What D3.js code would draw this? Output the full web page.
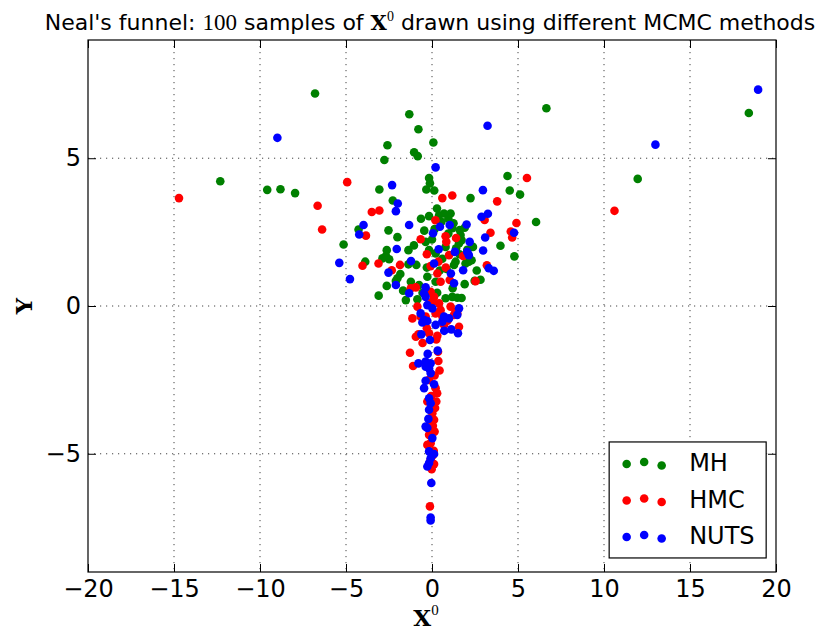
<!DOCTYPE html>
<html>
<head>
<meta charset="utf-8">
<script src="https://cdn.jsdelivr.net/npm/d3@7"></script>
<style>
  html, body { margin: 0; padding: 0; background: #fff; }
  svg { display: block; }
  text { font-family: "DejaVu Sans", sans-serif; fill: #000; }
</style>
</head>
<body>
<svg id="chart" width="823" height="630"></svg>
<script>
// Samples of (x0, y) drawn by each sampler
const mhPoints = [
  [-6.80,7.19],[-12.31,4.22],[-9.58,3.93],[-8.81,3.95],[-7.96,3.82],[6.65,6.69],[18.42,6.53],[11.96,4.30],
  [6.05,2.84],[5.12,3.77],[4.39,4.40],[4.52,3.91],[4.79,1.68],[3.98,2.04],[2.82,0.89],[-1.32,6.49],
  [-0.79,5.98],[-2.59,5.44],[0.08,5.53],[-1.04,5.20],[-0.83,5.07],[-2.77,4.94],[-0.17,4.33],[-0.12,4.15],
  [-0.33,3.94],[0.13,3.91],[-3.06,3.94],[2.24,3.65],[-2.28,3.57],[0.29,3.30],[0.70,3.13],[1.08,3.13],
  [-0.17,3.04],[-0.64,2.95],[0.41,3.07],[-5.14,2.08],[-4.27,2.59],[-2.53,2.56],[-2.01,2.33],[1.18,2.63],
  [1.61,2.57],[1.66,2.40],[1.72,2.23],[-0.37,2.17],[-3.88,1.50],[-1.37,1.89],[-2.63,1.89],[-2.68,1.69],
  [-2.88,1.61],[-2.49,1.58],[-1.37,1.41],[-0.91,1.39],[-1.84,1.08],[-2.01,0.94],[-2.10,0.85],[-2.63,0.68],
  [-1.68,0.52],[-1.52,0.20],[1.90,0.74],[2.48,0.85],[-0.27,0.99],[0.21,0.82],[0.79,0.26],[1.18,0.31],
  [1.47,0.28],[1.72,0.27],[-0.85,0.23],[-1.23,0.82],[-0.75,0.71],[-0.17,1.89],[0.21,1.78],[0.79,2.00],
  [1.57,2.12],[2.38,2.00],[2.14,1.50],[2.30,1.55],[1.37,1.50],[1.28,1.39],[1.95,1.44],[-3.10,0.35],
  [0.55,2.85],[0.95,2.95],[1.25,2.80],[0.15,2.60],[-0.45,2.55],[0.95,2.45],[1.40,1.95],[0.60,1.60],
  [0.85,1.25],[1.60,1.75],[-0.30,1.30],[0.45,1.20],[1.20,0.60],[1.90,2.65],[2.05,1.90],[-1.05,2.05],
  [0.30,0.45],[-0.55,0.45],[2.60,1.20],[0.00,2.25]
];

const hmcPoints = [
  [-14.71,3.65],[-6.65,3.39],[-6.39,2.59],[10.61,3.22],[5.52,4.33],[3.79,3.54],[3.06,2.91],[4.91,2.81],
  [3.40,2.48],[4.58,2.52],[4.66,2.32],[3.19,1.38],[-4.93,4.19],[0.60,3.65],[1.18,3.74],[-3.50,3.18],
  [-3.06,3.23],[-3.84,2.38],[0.79,2.36],[0.83,2.17],[-0.66,2.26],[-4.04,1.36],[-3.11,1.44],[-1.86,1.39],
  [-2.34,1.21],[-1.23,0.60],[-0.94,0.63],[1.81,1.69],[0.99,1.72],[0.37,1.50],[-0.08,1.35],[0.31,1.10],
  [0.50,0.82],[1.03,0.88],[2.53,0.84],[-0.08,0.48],[0.12,0.31],[0.02,0.15],[-0.85,-0.02],[-0.66,-0.36],
  [-1.14,-0.42],[-0.37,-0.36],[0.41,0.09],[0.50,-0.14],[1.08,-0.02],[1.37,-0.19],[1.28,-0.30],[0.70,-0.64],
  [1.57,-0.70],[-0.94,-1.04],[-0.79,-0.96],[-0.17,-0.92],[0.31,-1.01],[0.25,-1.13],[-1.28,-1.58],[-1.10,-2.03],
  [0.37,-1.86],[0.44,-2.18],[0.21,-2.78],[-0.17,-2.50],[-0.27,-3.23],[0.25,-3.23],[0.02,-3.63],[0.12,-3.85],
  [-0.17,-4.36],[-0.08,-4.64],[-0.27,-4.70],[-0.08,-5.20],[-0.02,-5.52],[-0.12,-6.78],[0.21,-0.25],[1.47,-0.25],
  [0.15,-2.35],[0.30,-2.95],[-0.05,-3.05],[0.18,-3.45],[0.05,-4.05],[0.15,-4.25],[0.10,-4.90],[0.05,-5.05],
  [0.12,-5.35],[-0.10,-3.95],[0.35,-1.55],[-0.55,-1.25],[0.60,-0.35],[-0.30,-0.75],[0.90,-0.50],[-0.20,0.05],
  [0.80,1.30],[1.40,2.30],[-0.30,1.75],[0.20,2.90]
];

const nutsPoints = [
  [-8.99,5.69],[18.96,7.32],[3.23,6.10],[12.99,5.46],[2.96,3.92],[3.25,3.12],[2.88,3.02],[3.09,2.32],
  [4.77,2.48],[2.97,1.88],[3.30,1.28],[3.59,1.19],[-5.39,1.46],[0.21,4.69],[-2.32,4.09],[-1.99,3.47],
  [-2.10,3.21],[-3.98,2.74],[-4.23,2.42],[-1.33,2.74],[0.46,2.68],[1.03,2.74],[2.01,2.76],[0.06,2.46],
  [-4.77,0.91],[-2.05,1.93],[-1.22,1.52],[-2.53,1.13],[-2.10,0.71],[-1.33,0.43],[0.39,1.92],[1.33,1.83],
  [2.05,1.83],[2.14,1.72],[2.19,2.17],[1.81,1.21],[1.10,1.10],[1.28,0.77],[0.12,1.44],[-0.37,0.63],
  [-0.46,0.43],[-0.37,0.31],[-0.27,0.03],[0.02,-0.08],[-0.66,-0.25],[-0.46,-0.47],[-0.27,-0.51],[0.21,-0.64],
  [0.70,-0.36],[0.99,-0.42],[0.60,-0.53],[1.57,-0.08],[1.47,-0.30],[-0.56,-0.56],[1.12,-0.79],[1.51,-0.92],
  [0.71,-0.84],[-0.62,-0.96],[-0.12,-1.15],[0.33,-1.51],[-0.25,-1.62],[-0.79,-1.94],[-0.37,-1.88],[-0.08,-1.94],
  [-0.17,-2.11],[-0.37,-2.05],[-0.08,-2.27],[-0.37,-2.53],[-0.46,-2.78],[0.12,-2.65],[-0.17,-3.12],[-0.08,-3.29],
  [-0.17,-3.51],[-0.21,-3.82],[-0.37,-4.08],[-0.27,-4.13],[0.02,-4.47],[-0.17,-4.92],[0.12,-5.01],[-0.08,-5.15],
  [-0.17,-5.31],[-0.27,-5.43],[-0.04,-5.99],[-0.08,-7.16],[-0.08,-7.26]
];

const seriesNames = ["MH", "HMC", "NUTS"];
const seriesColors = ["#008000", "#ff0000", "#0000ff"];
const xTicks = [-20, -15, -10, -5, 0, 5, 10, 15, 20];
const yTicks = [-5, 0, 5];
const xDomain = [-20, 20];
const yDomain = [-9, 9];

const svg = d3.select("#chart");
const margin = { left: 88, top: 40, right: 47, bottom: 58 };
const W = 823 - margin.left - margin.right;
const H = 630 - margin.top - margin.bottom;

const x = d3.scaleLinear().domain(xDomain).range([0, W]);
const y = d3.scaleLinear().domain(yDomain).range([H, 0]);

const g = svg.append("g").attr("transform", `translate(${margin.left},${margin.top})`);

// dotted grid
const grid = g.append("g").attr("stroke", "#444").attr("stroke-width", 1)
  .attr("stroke-dasharray", "1.2,4.8");
grid.selectAll("line.gx").data(xTicks.slice(1, -1)).join("line")
  .attr("x1", d => x(d)).attr("x2", d => x(d)).attr("y1", 0).attr("y2", H);
grid.selectAll("line.gy").data(yTicks).join("line")
  .attr("x1", 0).attr("x2", W).attr("y1", d => y(d)).attr("y2", d => y(d));

// samples
const allSeries = [mhPoints, hmcPoints, nutsPoints];
allSeries.forEach((pts, i) => {
  g.append("g").selectAll("circle").data(pts).join("circle")
    .attr("cx", d => x(d[0])).attr("cy", d => y(d[1])).attr("r", 4.3)
    .attr("fill", seriesColors[i]);
});

// axes with inward ticks on all four sides
const fmt = d3.format("d");
const tickLen = 8;
const axB = g.append("g").attr("transform", `translate(0,${H})`)
  .call(d3.axisBottom(x).tickValues(xTicks).tickFormat(fmt).tickSizeInner(-tickLen).tickSizeOuter(0).tickPadding(8));
const axL = g.append("g")
  .call(d3.axisLeft(y).tickValues(yTicks).tickFormat(fmt).tickSizeInner(-tickLen).tickSizeOuter(0).tickPadding(7));
const axT = g.append("g")
  .call(d3.axisTop(x).tickValues(xTicks).tickFormat("").tickSizeInner(-tickLen).tickSizeOuter(0));
const axR = g.append("g").attr("transform", `translate(${W},0)`)
  .call(d3.axisRight(y).tickValues(yTicks).tickFormat("").tickSizeInner(-tickLen).tickSizeOuter(0));
[axB, axL, axT, axR].forEach(a => {
  a.select(".domain").remove();
  a.selectAll(".tick line").attr("stroke", "#000").attr("stroke-width", 1);
  a.selectAll("text").style("font-family", "'DejaVu Sans', sans-serif").style("font-size", "24px").attr("fill", "#000");
});

// frame
g.append("rect").attr("x", 0).attr("y", 0).attr("width", W).attr("height", H)
  .attr("fill", "none").attr("stroke", "#000").attr("stroke-width", 1.2);

// legend
const leg = g.append("g").attr("transform", `translate(${x(10.3)},${y(-4.6)})`);
leg.append("rect").attr("x", 0).attr("y", 0).attr("width", 157).attr("height", 116)
  .attr("fill", "#fff").attr("stroke", "#000").attr("stroke-width", 1.2);
const legDx = [17.5, 35, 52.5];
const legDy = [1.5, -0.5, 3];
seriesNames.forEach((name, i) => {
  const cy = 20.5 + i * 36.5;
  legDx.forEach((dx, k) => {
    leg.append("circle").attr("cx", dx).attr("cy", cy + legDy[k]).attr("r", 4.3).attr("fill", seriesColors[i]);
  });
  leg.append("text").attr("x", 80).attr("y", cy + 9)
    .style("font-size", "24px").text(name);
});

// title
const title = svg.append("text").attr("x", 430).attr("y", 30)
  .attr("text-anchor", "middle").style("font-size", "22px");
title.append("tspan").text("Neal's funnel: ");
title.append("tspan").style("font-family", "'Liberation Serif', serif").style("font-size", "23px").text("100");
title.append("tspan").text(" samples of ");
title.append("tspan").style("font-family", "'DejaVu Serif', serif").style("font-weight", "bold").style("font-size", "21px").text("X");
title.append("tspan").style("font-family", "'Liberation Serif', serif").style("font-size", "14px").attr("dy", -9).text("0");
title.append("tspan").attr("dy", 9).text(" drawn using different MCMC methods");

// axis labels
const xl = svg.append("text").attr("x", margin.left + W / 2 - 6).attr("y", 626)
  .attr("text-anchor", "middle").style("font-family", "'DejaVu Serif', serif").style("font-weight", "bold").style("font-size", "23px");
xl.append("tspan").text("X");
xl.append("tspan").style("font-family", "'Liberation Serif', serif").style("font-weight", "normal").style("font-size", "15px").attr("dy", -11).text("0");

svg.append("text").attr("transform", `translate(32,${margin.top + y(0)}) rotate(-90)`)
  .attr("text-anchor", "middle").style("font-family", "'DejaVu Serif', serif").style("font-weight", "bold").style("font-size", "23px")
  .text("Y");
</script>
</body>
</html>
